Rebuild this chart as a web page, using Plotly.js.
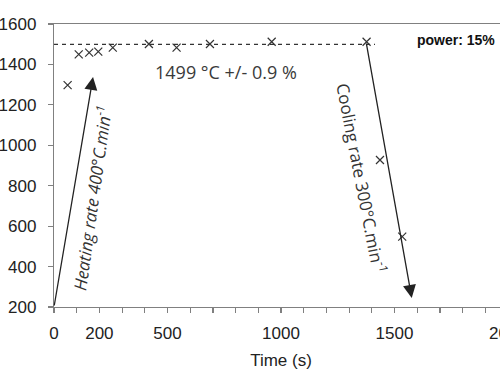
<!DOCTYPE html>
<html>
<head>
<meta charset="utf-8">
<script src="https://cdn.plot.ly/plotly-3.0.1.min.js"></script>
<style>
  html, body { margin: 0; padding: 0; overflow: hidden; background: #fff; }
  #chart { width: 540px; height: 380px; }
</style>
</head>
<body>
<div id="chart"></div>
<script>
// Measured temperature points
const timeS = [60, 109, 155, 195, 259, 418, 540, 687, 959, 1377, 1436, 1534];
const tempC = [1298, 1450, 1458, 1463, 1483, 1501, 1483, 1501, 1512, 1512, 927, 548];

// Plateau (dashed) line
const plateauX = [0, 1414];
const plateauY = [1499, 1499];

// Tick labels
const xTickVals = [0, 200, 500, 1000, 1500, 2000];
const xTickText = ['0', '200', '500', '1000', '1500', '2000'];
const yTickVals = [200, 400, 600, 800, 1000, 1200, 1400, 1600];

// Arrows: [tailX, tailY, headX, headY]
const heatingArrow = [0, 200, 172, 1338];
const coolingArrow = [1375, 1510, 1576, 245];

const traces = [
  {
    x: plateauX, y: plateauY, type: 'scatter', mode: 'lines',
    line: { color: '#333', width: 1.2, dash: '4px,4px' },
    hoverinfo: 'skip', showlegend: false
  },
  {
    x: timeS, y: tempC, type: 'scatter', mode: 'markers',
    marker: { symbol: 'x-thin-open', size: 8, color: '#333', line: { color: '#333', width: 1.2 } },
    showlegend: false
  }
];

const arrowStyle = { showarrow: true, arrowhead: 2, arrowsize: 2, arrowwidth: 1.3, arrowcolor: '#222', text: '', axref: 'x', ayref: 'y', xref: 'x', yref: 'y', standoff: 0 };

const layout = {
  width: 540, height: 380,
  margin: { l: 54, r: 32, t: 24, b: 73 },
  paper_bgcolor: '#fff', plot_bgcolor: '#fff',
  font: { family: 'Liberation Sans, Arial, sans-serif', color: '#222', size: 17 },
  xaxis: {
    range: [0, 2000], showgrid: false, zeroline: false,
    showline: true, linecolor: '#808080', linewidth: 1.2, mirror: true,
    tickmode: 'array', tickvals: xTickVals, ticktext: xTickText,
    ticks: 'outside', ticklen: 5, tickcolor: '#808080', tickwidth: 1.2,
    ticklabelstandoff: 5,
    minor: { dtick: 100, ticks: 'outside', ticklen: 5, tickcolor: '#808080', tickwidth: 1.2, showgrid: false },
    tickfont: { size: 17, color: '#222' },
    title: { text: 'Time (s)', font: { size: 17, color: '#222' }, standoff: 12 }
  },
  yaxis: {
    range: [200, 1600], showgrid: false, zeroline: false,
    showline: true, linecolor: '#808080', linewidth: 1.2, mirror: true,
    tickmode: 'array', tickvals: yTickVals,
    ticks: 'outside', ticklen: 5, tickcolor: '#808080', tickwidth: 1.2,
    ticklabelstandoff: 8,
    tickfont: { size: 17, color: '#222' }
  },
  annotations: [
    Object.assign({}, arrowStyle, { x: heatingArrow[2], y: heatingArrow[3], ax: heatingArrow[0], ay: heatingArrow[1] }),
    Object.assign({}, arrowStyle, { x: coolingArrow[2], y: coolingArrow[3], ax: coolingArrow[0], ay: coolingArrow[1] }),
    {
      x: 758, y: 1362, xref: 'x', yref: 'y', showarrow: false,
      text: '1499 °C +/- 0.9 %',
      font: { family: 'Open Sans, sans-serif', size: 18, color: '#3a3a3a' }
    },
    {
      x: 1771, y: 1521, xref: 'x', yref: 'y', showarrow: false,
      text: '<b>power: 15%</b>',
      font: { family: 'Liberation Sans, Arial, sans-serif', size: 14, color: '#111' }
    },
    {
      x: 163, y: 739, xref: 'x', yref: 'y', showarrow: false, textangle: -82,
      text: '<i>Heating rate 400°C.min<sup>-1</sup></i>',
      font: { family: 'Open Sans, sans-serif', size: 17, color: '#333' }
    },
    {
      x: 1359, y: 838, xref: 'x', yref: 'y', showarrow: false, textangle: 79,
      text: 'Cooling rate 300°C.min<sup>-1</sup>',
      font: { family: 'Open Sans, sans-serif', size: 17, color: '#333' }
    }
  ]
};

Plotly.newPlot('chart', traces, layout, { staticPlot: true, displayModeBar: false });
</script>
</body>
</html>
